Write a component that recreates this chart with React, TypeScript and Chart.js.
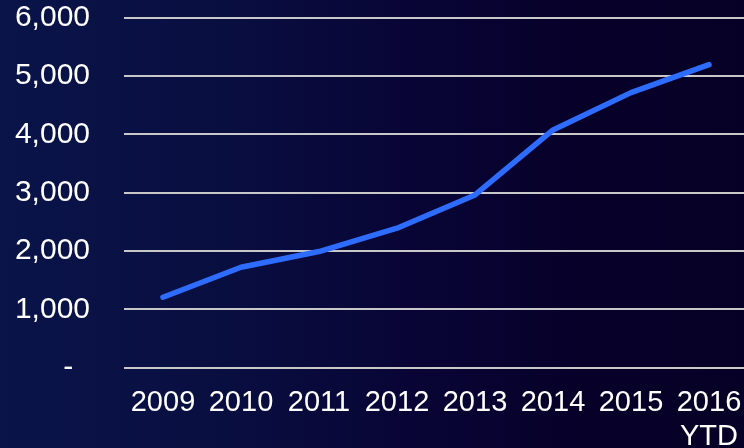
import React, { useEffect, useRef } from "react";
import { Chart, registerables } from "chart.js";

Chart.register(...registerables);

const categories: string[] = ["2009", "2010", "2011", "2012", "2013", "2014", "2015", "2016\nYTD"];
const values: number[] = [1206, 1720, 1990, 2390, 2960, 4075, 4715, 5195];
const yMin = 0;
const yMax = 6000;
const yStep = 1000;

const formatY = (v: number): string => (v === 0 ? "-  " : v.toLocaleString("en-US"));

export default function App() {
  const canvasRef = useRef<HTMLCanvasElement | null>(null);

  useEffect(() => {
    const canvas = canvasRef.current;
    if (!canvas) return;
    const chart = new Chart(canvas, {
      type: "line",
      data: {
        labels: categories,
        datasets: [
          {
            data: values,
            borderColor: "#2e6cff",
            borderWidth: 5.5,
            borderCapStyle: "round",
            borderJoinStyle: "round",
            pointRadius: 0,
            pointHoverRadius: 0,
            tension: 0,
            fill: false,
          },
        ],
      },
      options: {
        responsive: false,
        animation: false,
        layout: { padding: { top: 17.7, right: 4, bottom: 0, left: 0 } },
        plugins: { legend: { display: false }, tooltip: { enabled: false } },
        scales: {
          x: {
            offset: true,
            grid: { display: false, drawTicks: false },
            border: { display: false },
            afterFit: (scale: any) => {
              scale.height = 80.4;
              scale.paddingLeft = 0;
              scale.paddingRight = 0;
            },
            ticks: {
              color: "#ffffff",
              padding: 19,
              maxRotation: 0,
              autoSkip: false,
              font: { family: "'Liberation Sans', Arial, sans-serif", size: 29, lineHeight: 1.15 },
              callback: (_v: any, i: number) => categories[i].split("\n"),
            },
          },
          y: {
            min: yMin,
            max: yMax,
            grid: { color: "#c8c8c8", lineWidth: 2, drawTicks: false },
            border: { display: false },
            afterFit: (scale: any) => {
              scale.width = 124;
              scale.paddingTop = 0;
              scale.paddingBottom = 0;
            },
            ticks: {
              stepSize: yStep,
              color: "#ffffff",
              padding: 34,
              font: { family: "'Liberation Sans', Arial, sans-serif", size: 30, lineHeight: 1.0 },
              callback: (v: any) => formatY(Number(v)),
            },
          },
        },
      },
    });
    return () => chart.destroy();
  }, []);

  return (
    <div
      style={{
        position: "fixed",
        left: 0,
        top: 0,
        width: 744,
        height: 448,
        overflow: "hidden",
        background: "linear-gradient(to right, #0a1449 0%, #090e40 30%, #080536 55%, #070029 78%, #070026 100%)",
      }}
    >
      <canvas ref={canvasRef} width={752} height={448} style={{ display: "block", width: 752, height: 448 }} />
    </div>
  );
}
